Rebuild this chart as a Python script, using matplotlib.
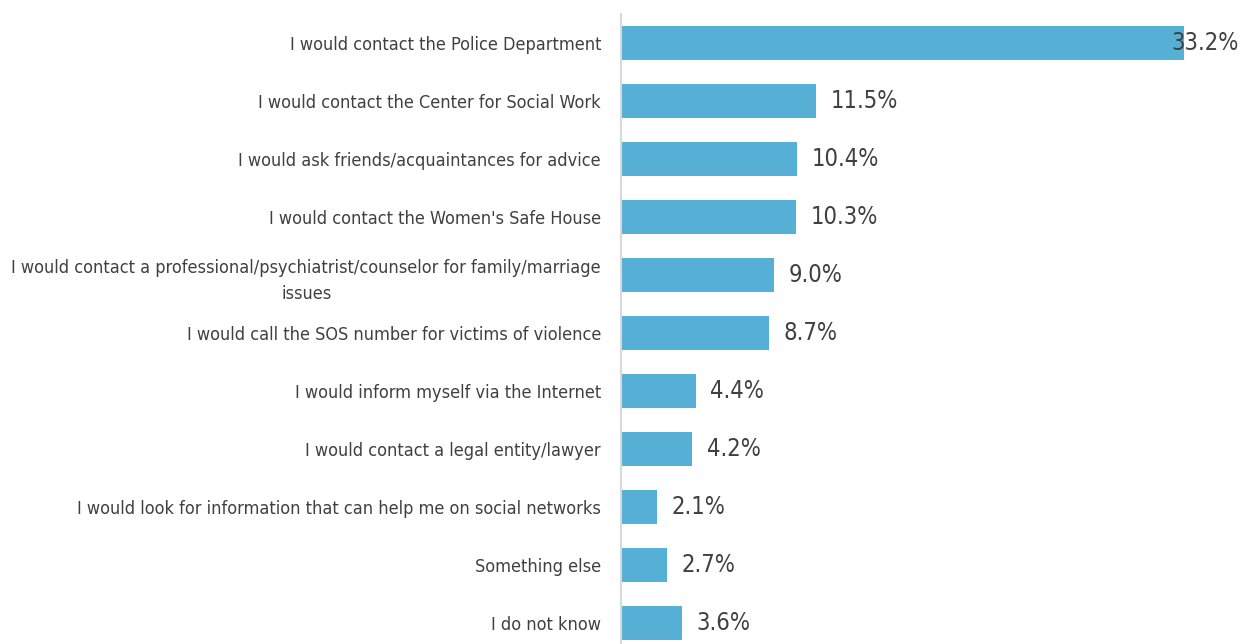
import matplotlib
matplotlib.use('Agg')
import matplotlib.pyplot as plt

answers = [
    'I would contact the Police Department',
    'I would contact the Center for Social Work',
    'I would ask friends/acquaintances for advice',
    "I would contact the Women's Safe House",
    'I would contact a professional/psychiatrist/counselor for family/marriage\nissues',
    'I would call the SOS number for victims of violence',
    'I would inform myself via the Internet',
    'I would contact a legal entity/lawyer',
    'I would look for information that can help me on social networks',
    'Something else',
    'I do not know',
]
shares = [33.2, 11.5, 10.4, 10.3, 9.0, 8.7, 4.4, 4.2, 2.1, 2.7, 3.6]

plt.rcParams['font.family'] = ['DejaVu Sans']
plt.rcParams['font.stretch'] = 'condensed'

fig = plt.figure(figsize=(12.4, 6.44), dpi=100)
ax = fig.add_axes([621 / 1240, 0, 1 - 621 / 1240, 1 - 14 / 644])

y = list(range(len(answers)))
ax.barh(y, shares, height=0.59, color='#56B0D6')

ax.set_xlim(0, 36.5)
ax.set_ylim(len(answers) - 1 + 0.362, -0.5)

ax.set_yticks(y)
ax.set_yticklabels(answers, fontsize=13, color='#404040', ha='right',
                   multialignment='center', fontstretch='condensed',
                   linespacing=1.55)
ax.tick_params(axis='y', length=0, pad=14.4)
ax.set_xticks([])

for side in ['top', 'right', 'bottom']:
    ax.spines[side].set_visible(False)
ax.spines['left'].set_color('#D9D9D9')
ax.spines['left'].set_linewidth(1.5)

# value labels; the widest bar gets its label pulled back inside the frame
for i, v in enumerate(shares):
    txt = f'{v:.1f}%'
    if v == max(shares):
        ax.text(36.45, i, txt, ha='right', va='center', fontsize=17,
                color='#404040', fontstretch='condensed')
    else:
        ax.annotate(txt, (v, i), xytext=(10.5, 0), textcoords='offset points',
                    ha='left', va='center', fontsize=17, color='#404040',
                    fontstretch='condensed')

fig.savefig('out.png', dpi=100)
